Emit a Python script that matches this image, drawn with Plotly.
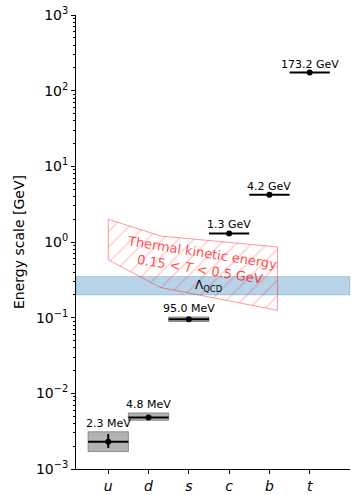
import math
import plotly.graph_objects as go

# ---- data ----
quarks = ["u", "d", "s", "c", "b", "t"]
mass_gev = [0.0023, 0.0048, 0.095, 1.3, 4.2, 173.2]
mass_labels = ["2.3 MeV", "4.8 MeV", "95.0 MeV", "1.3 GeV", "4.2 GeV", "173.2 GeV"]
box_low = [0.0017, 0.0044, 0.089, None, None, None]
box_high = [0.0031, 0.0055, 0.102, None, None, None]
err_plus = [0.0006, 0.0, 0.0, 0.0, 0.0, 0.0]
err_minus = [0.0004, 0.0, 0.0, 0.0, 0.0, 0.0]
lambda_qcd = [0.2, 0.35]
thermal_x = [0.0, 1.3, 4.2]
thermal_upper = [2.0, 1.2, 0.86]
thermal_lower = [0.58, 0.25, 0.125]
y_tick_exp = [-3, -2, -1, 0, 1, 2, 3]

HALF = 0.5
FONT = "DejaVu Sans"
xpos = list(range(len(quarks)))

fig = go.Figure()

# Lambda_QCD band
fig.add_shape(type="rect", xref="paper", x0=0, x1=1, yref="y",
              y0=lambda_qcd[0], y1=lambda_qcd[1],
              fillcolor="rgba(31,119,180,0.32)",
              line=dict(color="rgba(31,119,180,0.25)", width=1), layer="below")

# gray uncertainty boxes
for i, lo, hi in zip(xpos, box_low, box_high):
    if lo is None:
        continue
    fig.add_trace(go.Scatter(
        x=[i - HALF, i + HALF, i + HALF, i - HALF, i - HALF],
        y=[lo, lo, hi, hi, lo], mode="lines", fill="toself",
        fillcolor="rgba(128,128,128,0.6)",
        line=dict(color="rgba(110,110,110,0.7)", width=1),
        hoverinfo="skip", showlegend=False))

# thermal kinetic energy hatched region
fig.add_trace(go.Scatter(
    x=thermal_x + thermal_x[::-1] + thermal_x[:1],
    y=thermal_upper + thermal_lower[::-1] + thermal_upper[:1],
    mode="lines", fill="toself", fillcolor="rgba(0,0,0,0)",
    fillpattern=dict(shape="/", fgcolor="rgba(255,0,0,0.4)",
                     bgcolor="rgba(0,0,0,0)", size=11, solidity=0.13),
    line=dict(color="rgba(255,0,0,0.4)", width=1),
    hoverinfo="skip", showlegend=False))

# masses with horizontal extent and errors
fig.add_trace(go.Scatter(
    x=xpos, y=mass_gev, mode="markers",
    marker=dict(color="black", size=6),
    error_x=dict(type="constant", value=HALF, thickness=2, width=0, color="black"),
    error_y=dict(type="data", array=err_plus, arrayminus=err_minus,
                 thickness=2, width=0, color="black"),
    showlegend=False))

# labels above each mass (annotations on log axes take log10 coordinates)
for i, m, lab, hi in zip(xpos, mass_gev, mass_labels, box_high):
    top = hi if hi is not None else m
    fig.add_annotation(x=i, y=math.log10(top), yref="y", xref="x", text=lab,
                       showarrow=False, yanchor="bottom", yshift=0,
                       font=dict(family=FONT, size=11, color="black"))

# Lambda_QCD label
fig.add_annotation(x=2.5, y=math.log10((lambda_qcd[0] * lambda_qcd[1]) ** 0.5),
                   text="Λ<sub>QCD</sub>", showarrow=False,
                   xanchor="center", yanchor="middle",
                   font=dict(family=FONT, size=12, color="black"))

# thermal label
fig.add_annotation(x=2.3, y=math.log10(0.56),
                   text="Thermal kinetic energy<br>0.15 &lt; <i>T</i> &lt; 0.5 GeV",
                   showarrow=False, textangle=9,
                   xanchor="center", yanchor="middle",
                   font=dict(family=FONT, size=13, color="rgba(255,0,0,0.72)"))

minor_vals = [k * 10.0 ** e for e in y_tick_exp[:-1] for k in range(2, 10)]

fig.update_layout(
    width=351, height=495,
    margin=dict(l=76, r=1, t=15, b=20),
    paper_bgcolor="white", plot_bgcolor="white",
    font=dict(family=FONT, size=14, color="black"),
    showlegend=False,
)
fig.update_xaxes(
    range=[-0.8, 6], tickvals=xpos,
    ticktext=[f"<i>{q}</i>" for q in quarks],
    showgrid=False, zeroline=False, showline=True, linecolor="black", linewidth=1,
    ticks="outside", ticklen=4, tickwidth=1, tickcolor="black",
    tickfont=dict(family=FONT, size=14),
)
fig.update_yaxes(
    type="log", range=[-3, 3],
    tickvals=[10.0 ** e for e in y_tick_exp],
    ticktext=[f"10<sup>{str(e).replace('-', '−')}</sup>" for e in y_tick_exp],
    showgrid=False, zeroline=False, showline=True, linecolor="black", linewidth=1,
    ticks="outside", ticklen=4, tickwidth=1, tickcolor="black",
    tickfont=dict(family=FONT, size=14),
    minor=dict(tickvals=minor_vals, ticks="outside", ticklen=2, tickwidth=0.8,
               tickcolor="black", showgrid=False),
    title=dict(text="Energy scale [GeV]", standoff=8, font=dict(family=FONT, size=14)),
)

fig.write_html("out.html")
